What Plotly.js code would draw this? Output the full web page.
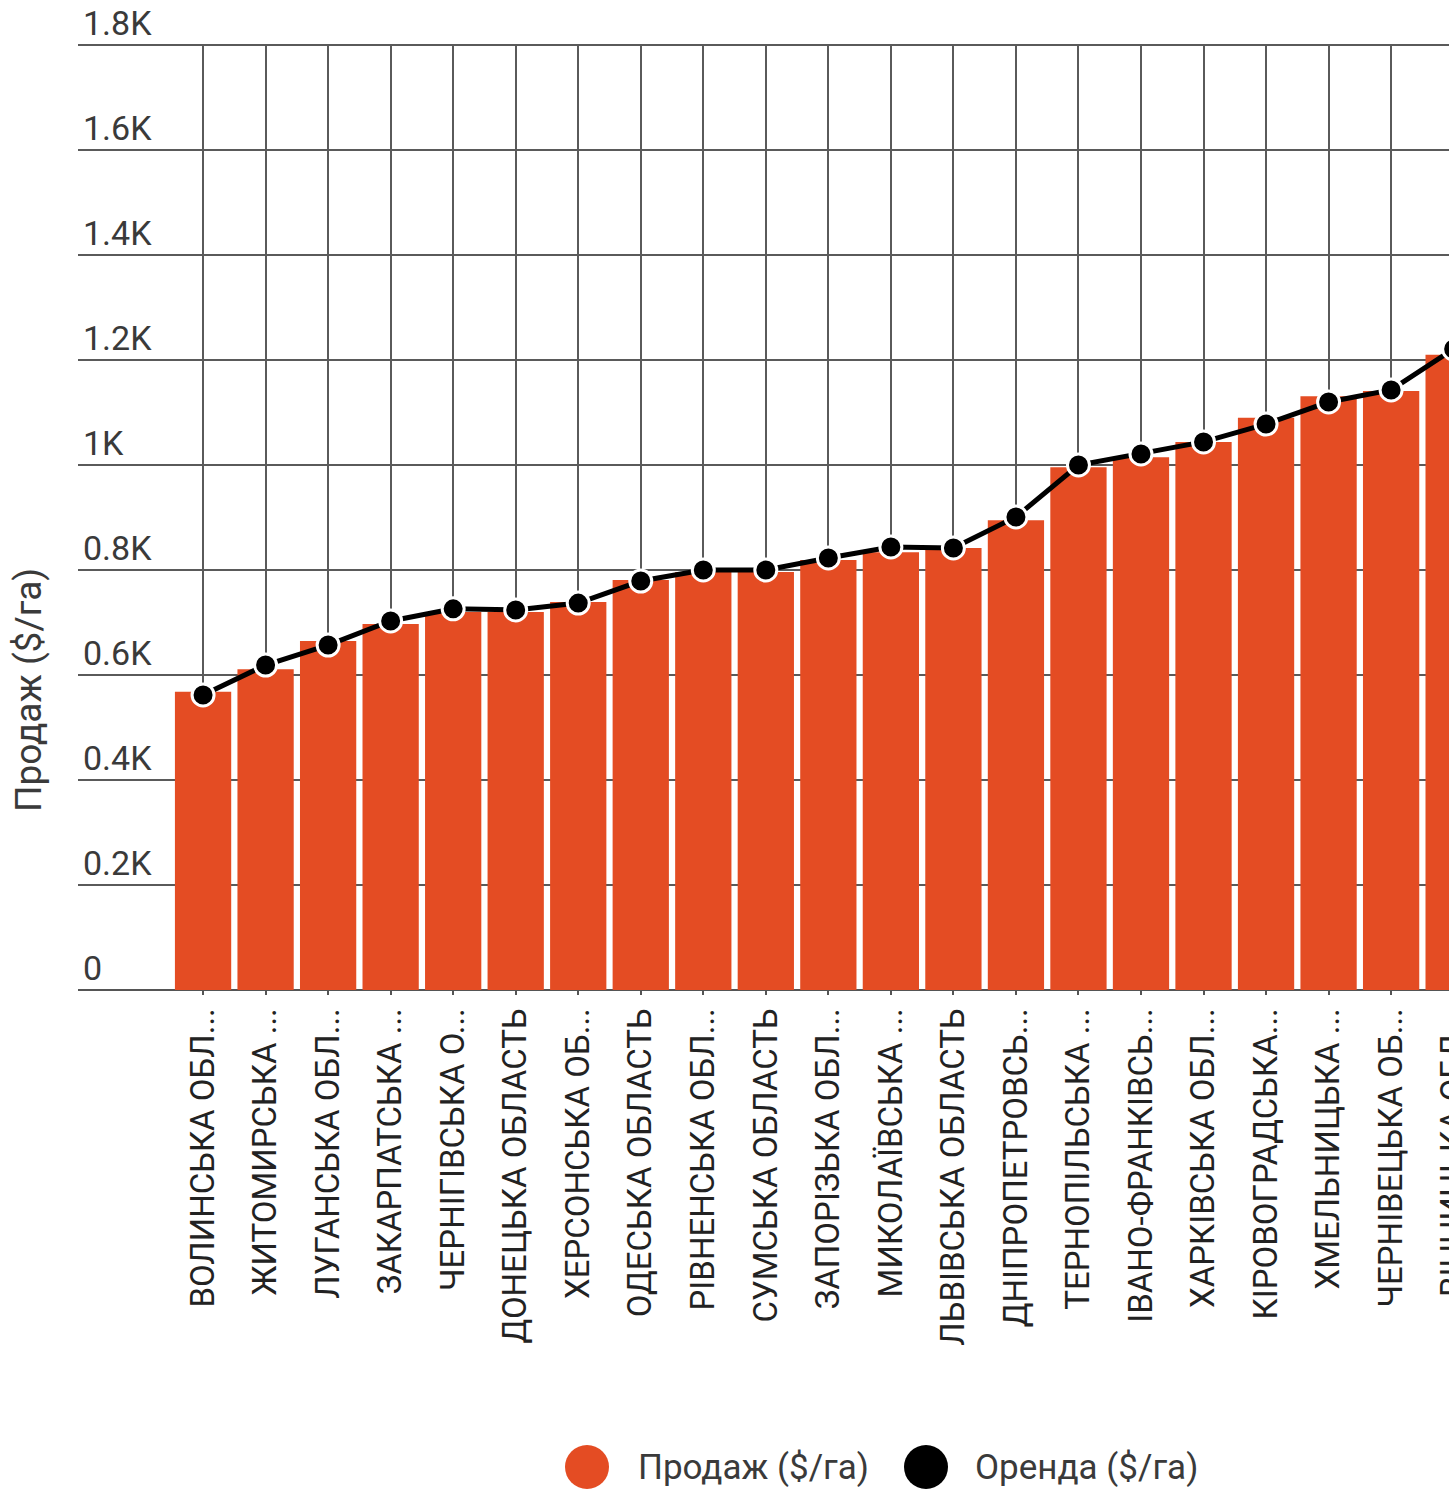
<!DOCTYPE html>
<html>
<head>
<meta charset="utf-8">
<script src="https://cdn.plot.ly/plotly-3.0.1.min.js"></script>
<style>
  html, body { margin: 0; padding: 0; overflow: hidden; background: #fff; }
  #chart { width: 1700px; height: 1492px; }
</style>
</head>
<body>
<div id="chart"></div>
<script>
// ---- data ----
const regions = [
  "ВОЛИНСЬКА ОБЛ...", "ЖИТОМИРСЬКА ...", "ЛУГАНСЬКА ОБЛ...", "ЗАКАРПАТСЬКА ...",
  "ЧЕРНІГІВСЬКА О...", "ДОНЕЦЬКА ОБЛАСТЬ", "ХЕРСОНСЬКА ОБ...", "ОДЕСЬКА ОБЛАСТЬ",
  "РІВНЕНСЬКА ОБЛ...", "СУМСЬКА ОБЛАСТЬ", "ЗАПОРІЗЬКА ОБЛ...", "МИКОЛАЇВСЬКА ...",
  "ЛЬВІВСЬКА ОБЛАСТЬ", "ДНІПРОПЕТРОВСЬ...", "ТЕРНОПІЛЬСЬКА ...", "ІВАНО-ФРАНКІВСЬ...",
  "ХАРКІВСЬКА ОБЛ...", "КІРОВОГРАДСЬКА...", "ХМЕЛЬНИЦЬКА ...", "ЧЕРНІВЕЦЬКА ОБ...",
  "ВІННИЦЬКА ОБЛ..."
];
const sale = [568, 611, 665, 697, 720, 720, 739, 781, 796, 796, 819, 834, 842, 895, 996, 1015, 1044, 1090, 1131, 1141, 1210];
const rent = [562, 619, 657, 703, 726, 724, 737, 779, 800, 800, 823, 844, 842, 901, 1000, 1021, 1044, 1078, 1120, 1143, 1221];
const yTickVals = [0, 200, 400, 600, 800, 1000, 1200, 1400, 1600, 1800];
const yTickText = ["0", "0.2K", "0.4K", "0.6K", "0.8K", "1K", "1.2K", "1.4K", "1.6K", "1.8K"];
const saleName = "Продаж ($/га)";
const rentName = "Оренда ($/га)";

// ---- styles ----
const ORANGE = "#E44C23";
const TEXT = "#3a3a3a";
const FONT = "Roboto, 'Noto Sans', sans-serif";

const traces = [
  {
    type: "bar", x: regions, y: sale, name: saleName,
    marker: { color: ORANGE }, showlegend: false, hoverinfo: "x+y"
  },
  {
    type: "scatter", mode: "lines+markers", x: regions, y: rent, name: rentName,
    line: { color: "#000", width: 5 },
    marker: { color: "#000", size: 22, line: { color: "#fff", width: 3 } },
    showlegend: false, cliponaxis: false
  }
];

// legend built from names (pixel positions converted to paper units)
const L = 78, PW = 1622, B0 = 990, PH = 946;
const px = v => (v - L) / PW;
const py = v => (B0 - v) / PH;
const legY = py(1467);

const layout = {
  width: 1700, height: 1492,
  margin: { l: L, r: 0, t: 44, b: 1492 - 990 },
  paper_bgcolor: "#fff", plot_bgcolor: "#fff",
  font: { family: FONT, color: TEXT },
  bargap: 0.1,
  showlegend: false,
  xaxis: {
    type: "category",
    range: [-2, 23.94],
    showgrid: true, gridcolor: "#5a5a5a", gridwidth: 1.5,
    tickangle: -90,
    ticks: "outside", ticklen: 4, tickcolor: "#555", tickwidth: 1.5,
    tickfont: { family: FONT, size: 33, color: "#222" },
    showline: false, zeroline: false
  },
  yaxis: {
    range: [0, 1802],
    tickvals: yTickVals, ticktext: yTickText,
    ticklabelposition: "inside",
    ticklabeloverflow: "allow",
    ticklabelshift: -22,
    ticklabelstandoff: 2,
    tickfont: { family: FONT, size: 34, color: TEXT },
    showgrid: true, gridcolor: "#5a5a5a", gridwidth: 2,
    zeroline: true, zerolinecolor: "#555", zerolinewidth: 2,
    showline: false, ticks: ""
  },
  annotations: [
    {
      text: saleName, textangle: -90, showarrow: false,
      xref: "paper", yref: "paper", x: px(28), y: py(690),
      xanchor: "center", yanchor: "middle",
      font: { family: FONT, size: 37, color: TEXT }
    },
    {
      text: saleName, showarrow: false, xref: "paper", yref: "paper",
      x: px(636), y: legY, xanchor: "left", yanchor: "middle",
      font: { family: FONT, size: 35, color: TEXT }
    },
    {
      text: rentName, showarrow: false, xref: "paper", yref: "paper",
      x: px(973), y: legY, xanchor: "left", yanchor: "middle",
      font: { family: FONT, size: 35, color: TEXT }
    }
  ],
  shapes: [
    {
      type: "circle", xref: "paper", yref: "paper",
      xsizemode: "pixel", ysizemode: "pixel",
      xanchor: px(587), yanchor: legY, x0: -22, x1: 22, y0: -22, y1: 22,
      fillcolor: ORANGE, line: { width: 0 }
    },
    {
      type: "circle", xref: "paper", yref: "paper",
      xsizemode: "pixel", ysizemode: "pixel",
      xanchor: px(926), yanchor: legY, x0: -22, x1: 22, y0: -22, y1: 22,
      fillcolor: "#000", line: { width: 0 }
    }
  ]
};

Plotly.newPlot("chart", traces, layout, { displayModeBar: false, responsive: false });
</script>
</body>
</html>
